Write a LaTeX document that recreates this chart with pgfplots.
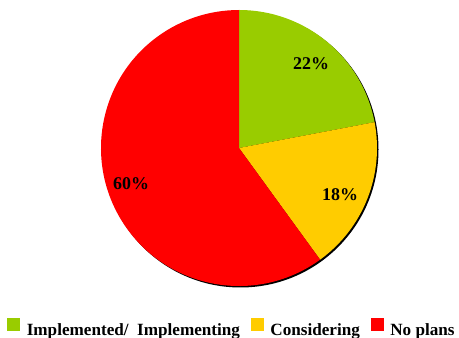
\documentclass[border=0pt]{standalone}
\usepackage{pgfplots}
\usepackage{pgfplotstable}
\pgfplotsset{compat=1.18}
\usepackage{fontspec}
\setmainfont{Liberation Serif}
\definecolor{impgreen}{HTML}{99CC00}
\definecolor{consyellow}{HTML}{FFCC00}
\definecolor{noplred}{HTML}{FF0000}
\pgfplotstableread{
label share
Implemented 22
Considering 18
Noplans 60
}\piedata
\pgfplotstablegetelem{0}{share}\of\piedata \let\sA\pgfplotsretval
\pgfplotstablegetelem{1}{share}\of\piedata \let\sB\pgfplotsretval
\pgfplotstablegetelem{2}{share}\of\piedata \let\sC\pgfplotsretval
\pgfmathsetmacro{\aA}{90-3.6*\sA}
\pgfmathsetmacro{\aB}{\aA-3.6*\sB}
\pgfmathsetmacro{\aC}{\aB-3.6*\sC}
\begin{document}
\begin{tikzpicture}
\useasboundingbox (0,0) rectangle (459bp,338bp);
\begin{axis}[
  at={(0,0)}, anchor=south west,
  width=459bp, height=338bp, scale only axis,
  xmin=0, xmax=459, ymin=0, ymax=338,
  hide axis, clip=false,
  legend style={draw=none, fill=none, at={(axis cs:232,9.5)}, anchor=center,
    font=\bfseries\fontsize{17.2}{19}\selectfont, inner sep=0pt,
    /tikz/every even column/.append style={column sep=9bp}},
  legend columns=-1,
]
\addlegendimage{legend image code/.code={\fill[impgreen] (0bp,0bp) rectangle (12bp,12bp); \path (17bp,0);}}
\addlegendentry{Implemented/\ \ Implementing}
\addlegendimage{legend image code/.code={\fill[consyellow] (0bp,0bp) rectangle (12bp,12bp); \path (17bp,0);}}
\addlegendentry{Considering}
\addlegendimage{legend image code/.code={\fill[noplred] (0bp,0bp) rectangle (12bp,12bp); \path (17bp,0);}}
\addlegendentry{No plans}
% shadow
\fill[black] (axis cs:240.5,188.5) circle[radius=138bp];
\fill[impgreen] (axis cs:239,190) -- ++(90:138bp) arc[start angle=90, end angle=\aA, radius=138bp] -- cycle;
\fill[consyellow] (axis cs:239,190) -- ++(\aA:138bp) arc[start angle=\aA, end angle=\aB, radius=138bp] -- cycle;
\fill[noplred] (axis cs:239,190) -- ++(\aB:138bp) arc[start angle=\aB, end angle=\aC, radius=138bp] -- cycle;
\node[font=\bfseries\fontsize{18}{20}\selectfont] at (axis cs:311,274) {\sA\%};
\node[font=\bfseries\fontsize{18}{20}\selectfont] at (axis cs:340,143.5) {\sB\%};
\node[font=\bfseries\fontsize{18}{20}\selectfont] at (axis cs:131,154.5) {\sC\%};
\end{axis}
\end{tikzpicture}
\end{document}
